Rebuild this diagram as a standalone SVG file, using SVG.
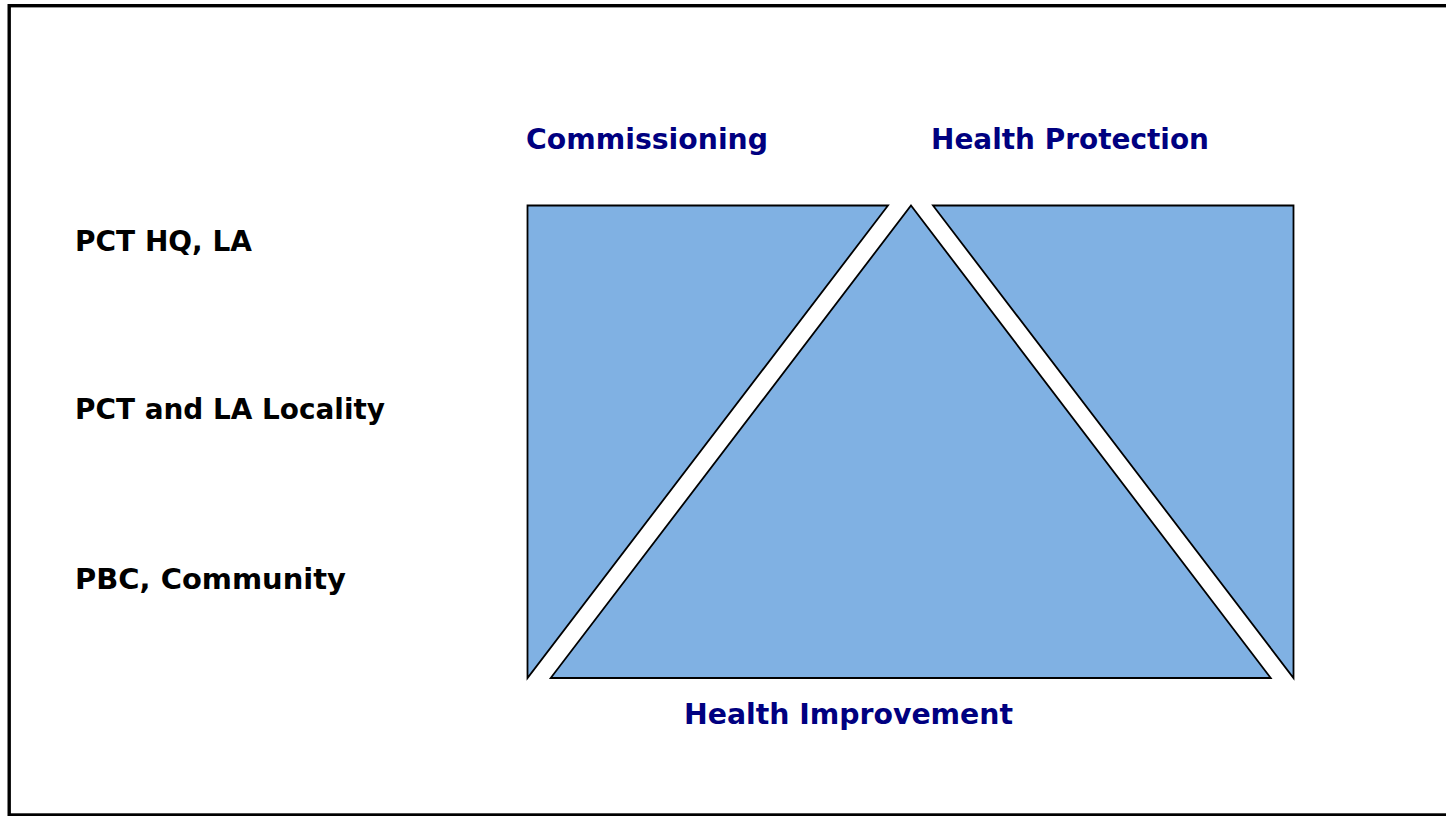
<svg xmlns="http://www.w3.org/2000/svg" width="1446" height="816" viewBox="0 0 1446 816">
<style>
.shape{fill:#80B1E3;stroke:#000;stroke-width:1.8;stroke-linejoin:miter}
.lbl{font-family:"DejaVu Sans","Liberation Sans",sans-serif;font-weight:bold;font-size:29px}
.blue{fill:#000080}
.blk{fill:#000}
</style>
<rect x="0" y="0" width="1446" height="816" fill="#fff"/>
<rect x="9.2" y="5.7" width="1450" height="809.3" fill="none" stroke="#000" stroke-width="3.4"/>
<g id="commissioning-shape"><polygon class="shape" points="527.5,205.5 888,205.5 527.5,678"/></g>
<g id="health-protection-shape"><polygon class="shape" points="933,205.5 1293.5,205.5 1293.5,678"/></g>
<g id="health-improvement-shape"><polygon class="shape" points="911,205.5 1270.7,678 550.7,678"/></g>
<g id="labels">
<text class="lbl blue" x="526" y="149" textLength="242" lengthAdjust="spacingAndGlyphs">Commissioning</text>
<text class="lbl blue" x="931" y="149" textLength="278" lengthAdjust="spacingAndGlyphs">Health Protection</text>
<text class="lbl blue" x="684" y="724" textLength="329" lengthAdjust="spacingAndGlyphs">Health Improvement</text>
<text class="lbl blk" x="75" y="250.5" textLength="177" lengthAdjust="spacingAndGlyphs">PCT HQ, LA</text>
<text class="lbl blk" x="75" y="419" textLength="310" lengthAdjust="spacingAndGlyphs">PCT and LA Locality</text>
<text class="lbl blk" x="75" y="589" textLength="271" lengthAdjust="spacingAndGlyphs">PBC, Community</text>
</g>
<g id="connectors"></g>
</svg>
